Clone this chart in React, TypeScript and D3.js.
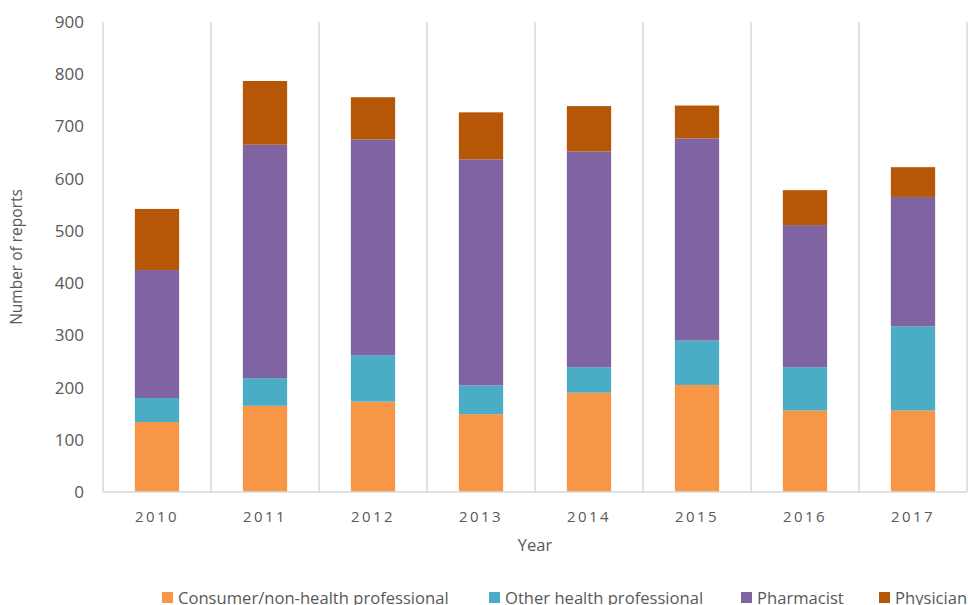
import { useEffect, useRef } from 'react';
import * as d3 from 'd3';

const years = ['2010', '2011', '2012', '2013', '2014', '2015', '2016', '2017'];
const seriesNames = ['Consumer/non-health professional', 'Other health professional', 'Pharmacist', 'Physician'];
const consumer = [134, 165, 173, 149, 190, 205, 156, 156];
const otherHealth = [46, 53, 89, 55, 49, 85, 83, 161];
const pharmacist = [245, 447, 413, 433, 413, 387, 272, 248];
const physician = [117, 122, 81, 90, 87, 63, 67, 57];
const yTicks = [0, 100, 200, 300, 400, 500, 600, 700, 800, 900];
const colors = ['#F79646', '#4BACC6', '#8064A2', '#B65708'];

export default function App() {
  const ref = useRef<SVGSVGElement | null>(null);

  useEffect(() => {
    const svg = d3.select(ref.current);
    svg.selectAll('*').remove();

    const margin = { top: 22, right: 1, bottom: 113, left: 103 };
    const W = 968, H = 605;
    const width = W - margin.left - margin.right;
    const height = H - margin.top - margin.bottom;
    const font = 'Open Sans, sans-serif';
    const textColor = '#595959';

    const rows = years.map((y, i) => ({
      year: y,
      s0: consumer[i], s1: otherHealth[i], s2: pharmacist[i], s3: physician[i],
    }));
    const keys = ['s0', 's1', 's2', 's3'];
    const stacked = d3.stack<any>().keys(keys)(rows);

    const x = d3.scaleBand().domain(years).range([0, width]).paddingInner(0).paddingOuter(0);
    const y = d3.scaleLinear().domain([0, 900]).range([height, 0]);

    const g = svg.append('g').attr('transform', `translate(${margin.left},${margin.top})`);

    // vertical separators
    const bounds = years.map(yy => x(yy)!).concat([width]);
    g.selectAll('.sep').data(bounds).enter().append('line')
      .attr('x1', d => d).attr('x2', d => d)
      .attr('y1', 0).attr('y2', height)
      .attr('stroke', '#d9d9d9').attr('stroke-width', 1.5);

    const barW = x.bandwidth() * 0.41;
    stacked.forEach((layer, li) => {
      g.selectAll(`.bar${li}`).data(layer).enter().append('rect')
        .attr('x', (d: any) => x(d.data.year)! + (x.bandwidth() - barW) / 2)
        .attr('y', d => y(d[1]))
        .attr('width', barW)
        .attr('height', d => y(d[0]) - y(d[1]))
        .attr('fill', colors[li]);
    });

    // x axis line
    g.append('line').attr('x1', 0).attr('x2', width).attr('y1', height).attr('y2', height)
      .attr('stroke', '#d9d9d9').attr('stroke-width', 1.5);

    // y tick labels
    g.selectAll('.ytick').data(yTicks).enter().append('text')
      .attr('x', -19).attr('y', d => y(d)).attr('dy', '0.35em')
      .attr('text-anchor', 'end').attr('font-family', font).attr('font-size', 17)
      .attr('fill', textColor).text(d => d);

    // x tick labels
    g.selectAll('.xtick').data(years).enter().append('text')
      .attr('x', d => x(d)! + x.bandwidth() / 2).attr('y', height + 30)
      .attr('text-anchor', 'middle').attr('font-family', font).attr('font-size', 15)
      .attr('letter-spacing', 2.4).attr('fill', textColor).text(d => d);

    // axis titles
    svg.append('text')
      .attr('transform', `translate(22,${margin.top + height / 2}) rotate(-90)`)
      .attr('text-anchor', 'middle').attr('font-family', font).attr('font-size', 15.5)
      .attr('fill', textColor).text('Number of reports');
    svg.append('text')
      .attr('x', 535).attr('y', 551)
      .attr('text-anchor', 'middle').attr('font-family', font).attr('font-size', 16.5)
      .attr('fill', textColor).text('Year');

    // legend
    const legendX = [162, 489, 741, 879];
    const lg = svg.append('g');
    seriesNames.forEach((name, i) => {
      lg.append('rect').attr('x', legendX[i]).attr('y', 592).attr('width', 11).attr('height', 11)
        .attr('fill', colors[i]);
      lg.append('text').attr('x', legendX[i] + 16).attr('y', 604)
        .attr('font-family', font).attr('font-size', 16.6).attr('fill', textColor).text(name);
    });
  }, []);

  return (
    <svg ref={ref} width={968} height={605}
      style={{ position: 'absolute', left: 0, top: 0, background: '#fff' }} />
  );
}
